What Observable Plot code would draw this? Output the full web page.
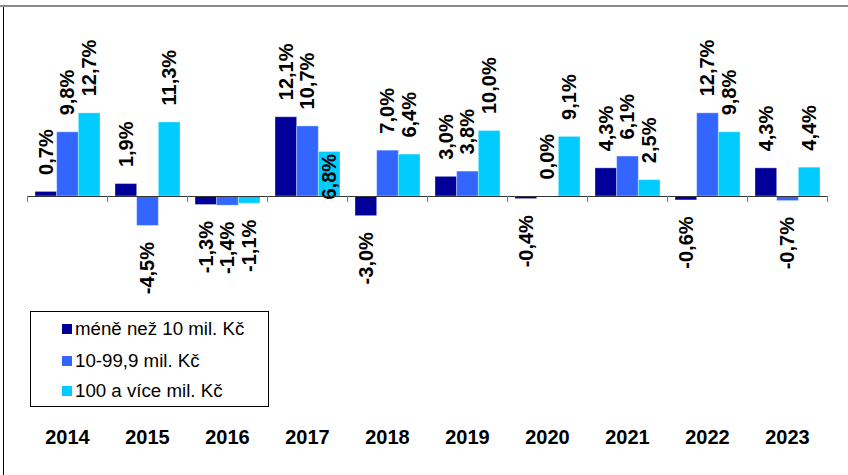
<!DOCTYPE html>
<html><head><meta charset="utf-8">
<script src="https://cdn.jsdelivr.net/npm/d3@7"></script>
<script src="https://cdn.jsdelivr.net/npm/@observablehq/plot@0.6"></script>
<style>
body{margin:0;background:#fff;}
#wrap{position:relative;width:848px;height:475px;overflow:hidden;font-family:"Liberation Sans",Arial,sans-serif;}
#wrap svg{position:absolute;left:0;top:0;}
.topline{position:absolute;left:0;top:5px;width:848px;height:2px;background:#8a8a8a;}
.leftline{position:absolute;left:3px;top:7px;width:1px;height:470px;background:#000;}
.legend{position:absolute;left:30px;top:311px;width:237px;height:94px;border:1px solid #000;background:#fff;}
.legend .row{position:absolute;left:31px;height:20px;display:flex;align-items:center;font-size:18.7px;color:#000;white-space:nowrap;}
.legend .sw{width:10px;height:10px;margin-right:3px;}
</style></head><body><div id="wrap"><div class="topline"></div><div class="leftline"></div></div>
<script>
const years = ["2014","2015","2016","2017","2018","2019","2020","2021","2022","2023"];
const seriesNames = ["méně než 10 mil. Kč","10-99,9 mil. Kč","100 a více mil. Kč"];
const colors = ["#000099","#3366ff","#00ccff"];
const small  = [0.7, 1.9, -1.3, 12.1, -3.0, 3.0, -0.4, 4.3, -0.6, 4.3];
const medium = [9.8, -4.5, -1.4, 10.7, 7.0, 3.8, 0.0, 6.1, 12.7, -0.7];
const large  = [12.7, 11.3, -1.1, 6.8, 6.4, 10.0, 9.1, 2.5, 9.8, 4.4];
const seriesValues = [small, medium, large];
// labels placed inside the bar end instead of outside (as in the original)
const insideLabels = [{year: "2017", series: 2}];

const W = 848, H = 475;
const marginLeft = 27, marginRight = 21;
const step = (W - marginLeft - marginRight) / years.length;
const groupPad = 8, barW = 65 / 3;
const fmt = v => v.toFixed(1).replace(".", ",") + "%";
const isInside = d => insideLabels.some(o => o.year === d.year && o.series === d.series);

const marks = [];
seriesValues.forEach((vals, s) => {
  const data = years.map((y, j) => ({year: y, value: vals[j], series: s}));
  const left = groupPad + barW * s;
  const right = step - groupPad - barW * (s + 1);
  const dx = left + barW / 2 - step / 2;
  marks.push(Plot.barY(data, {x: "year", y: "value", fill: colors[s], stroke: "#ffffff", strokeOpacity: 0.35, strokeWidth: 1, insetLeft: left, insetRight: right}));
  marks.push(Plot.text(data.filter(d => d.value >= 0 && !isInside(d)), {
    x: "year", y: "value", text: d => fmt(d.value), rotate: -90, textAnchor: "start", lineAnchor: "middle", dx, dy: -17, fill: "#000"}));
  marks.push(Plot.text(data.filter(d => d.value < 0 && !isInside(d)), {
    x: "year", y: "value", text: d => fmt(d.value), rotate: -90, textAnchor: "end", lineAnchor: "middle", dx, dy: 16, fill: "#000"}));
  marks.push(Plot.text(data.filter(d => isInside(d)), {
    x: "year", y: "value", text: d => fmt(d.value), rotate: -90, textAnchor: "end", lineAnchor: "middle", dx, dy: 2, fill: "#000"}));
});
marks.push(Plot.ruleY([0], {stroke: "#333", strokeWidth: 1}));
marks.push(Plot.ruleX(years, {x: d => d, y1: 0, y2: -0.9, dx: -step / 2, stroke: "#777"}));
marks.push(Plot.ruleX(years.slice(-1), {x: d => d, y1: 0, y2: -0.9, dx: step / 2, stroke: "#777"}));
marks.push(Plot.axisX({tickSize: 0, tickPadding: 37, label: null}));

const chart = Plot.plot({
  width: W, height: H,
  marginLeft, marginRight, marginTop: 65, marginBottom: 82.5,
  x: {domain: years, padding: 0, axis: null},
  y: {domain: [-30, 20], axis: null},
  style: {fontFamily: "'Liberation Sans', Arial, sans-serif", fontSize: "20px", fontWeight: "bold", background: "transparent", overflow: "visible"},
  marks
});
const wrap = document.getElementById("wrap");
wrap.insertBefore(chart, wrap.firstChild);

const legend = document.createElement("div");
legend.className = "legend";
const rowTops = [7, 39, 69];
seriesNames.forEach((n, i) => {
  const r = document.createElement("div");
  r.className = "row";
  r.style.top = rowTops[i] + "px";
  r.innerHTML = `<div class="sw" style="background:${colors[i]}"></div><span>${n}</span>`;
  legend.appendChild(r);
});
wrap.appendChild(legend);
</script>
</body></html>
